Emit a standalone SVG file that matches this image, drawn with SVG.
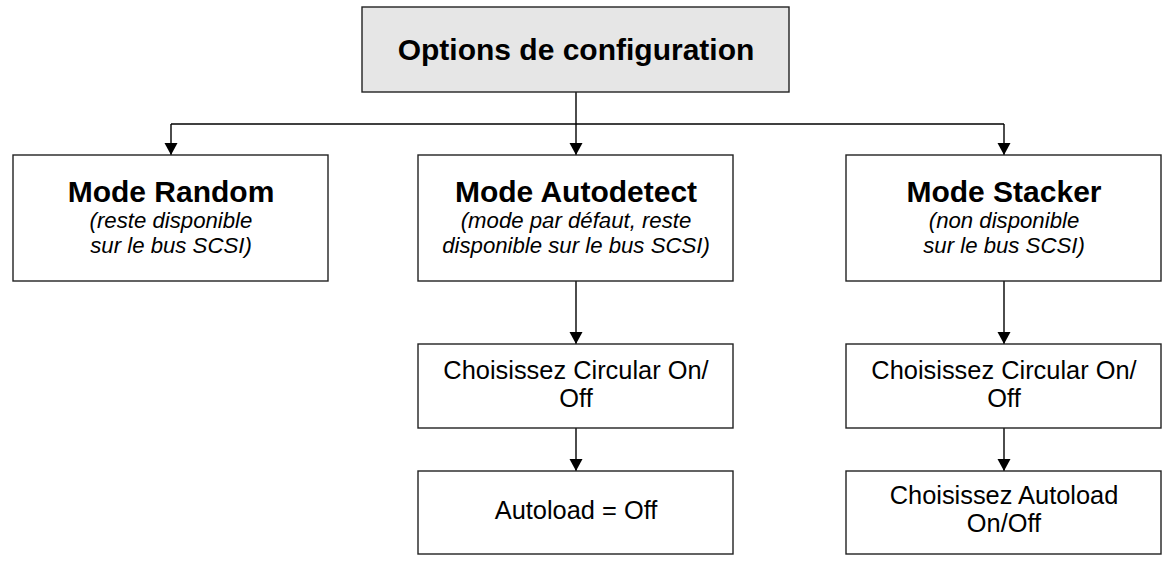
<svg xmlns="http://www.w3.org/2000/svg" width="1174" height="565" viewBox="0 0 1174 565">
<style>
.box{fill:#fff;stroke:#222;stroke-width:1.4}
.top{fill:#e6e6e6;stroke:#222;stroke-width:1.4}
.t{font-family:"Liberation Sans",Arial,sans-serif;fill:#000;text-anchor:middle}
.b{font-weight:bold;font-size:30px}
.i{font-style:italic;font-size:22.2px}
.r{font-size:25.4px}
.c{fill:none;stroke:#000;stroke-width:1.4}
</style>
<defs>
<marker id="ah" markerUnits="userSpaceOnUse" markerWidth="14" markerHeight="14" refX="12" refY="6.5" orient="auto">
<path d="M0,0 L12,6.5 L0,13 Z" fill="#000"/>
</marker>
</defs>
<g id="connectors">
<path class="c" d="M576,92 V124"/>
<path class="c" d="M171,124 H1004"/>
<path class="c" d="M171,124 V155" marker-end="url(#ah)"/>
<path class="c" d="M576,124 V155" marker-end="url(#ah)"/>
<path class="c" d="M1004,124 V155" marker-end="url(#ah)"/>
<path class="c" d="M576,281 V344" marker-end="url(#ah)"/>
<path class="c" d="M1004,281 V344" marker-end="url(#ah)"/>
<path class="c" d="M576,428 V471" marker-end="url(#ah)"/>
<path class="c" d="M1004,428 V471" marker-end="url(#ah)"/>
</g>
<g id="options">
<rect class="top" x="362" y="7" width="427" height="85"/>
<text class="t b" x="576" y="60">Options de configuration</text>
</g>
<g id="random">
<rect class="box" x="13" y="155" width="315" height="126"/>
<text class="t b" x="171" y="202">Mode Random</text>
<text class="t i" x="171" y="228">(reste disponible</text>
<text class="t i" x="171" y="253">sur le bus SCSI)</text>
</g>
<g id="autodetect">
<rect class="box" x="418" y="155" width="315" height="126"/>
<text class="t b" x="576" y="202">Mode Autodetect</text>
<text class="t i" x="576" y="228">(mode par défaut, reste</text>
<text class="t i" x="576" y="253">disponible sur le bus SCSI)</text>
</g>
<g id="stacker">
<rect class="box" x="846" y="155" width="315" height="126"/>
<text class="t b" x="1004" y="202">Mode Stacker</text>
<text class="t i" x="1004" y="228">(non disponible</text>
<text class="t i" x="1004" y="253">sur le bus SCSI)</text>
</g>
<g id="circular1">
<rect class="box" x="418" y="344" width="315" height="84"/>
<text class="t r" x="576" y="379">Choisissez Circular On/</text>
<text class="t r" x="576" y="407">Off</text>
</g>
<g id="autoload1">
<rect class="box" x="418" y="471" width="315" height="83"/>
<text class="t r" x="576" y="519">Autoload = Off</text>
</g>
<g id="circular2">
<rect class="box" x="846" y="344" width="315" height="84"/>
<text class="t r" x="1004" y="379">Choisissez Circular On/</text>
<text class="t r" x="1004" y="407">Off</text>
</g>
<g id="autoload2">
<rect class="box" x="846" y="471" width="315" height="83"/>
<text class="t r" x="1004" y="504">Choisissez Autoload</text>
<text class="t r" x="1004" y="532">On/Off</text>
</g>
</svg>
